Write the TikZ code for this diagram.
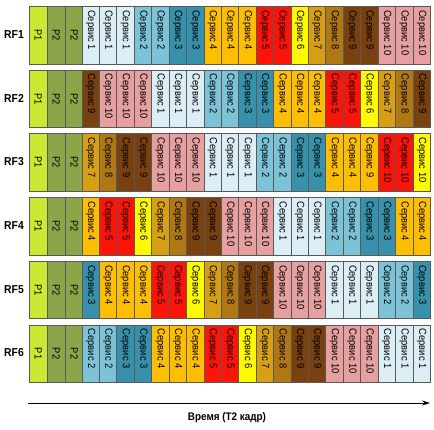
\documentclass[tikz,border=0pt]{standalone}
\usepackage{fontspec}
\setmainfont{Liberation Sans}[FakeStretch=0.9]
\usetikzlibrary{arrows.meta,positioning}
\definecolor{p1}{RGB}{205, 232, 50}
\definecolor{p2}{RGB}{140, 165, 75}
\definecolor{s1}{RGB}{220, 238, 245}
\definecolor{s2}{RGB}{125, 195, 215}
\definecolor{s3}{RGB}{55, 145, 170}
\definecolor{s4}{RGB}{255, 190, 0}
\definecolor{s5}{RGB}{255, 20, 10}
\definecolor{s6}{RGB}{255, 250, 0}
\definecolor{s7}{RGB}{215, 160, 20}
\definecolor{s8}{RGB}{175, 120, 20}
\definecolor{s9}{RGB}{120, 65, 15}
\definecolor{s10}{RGB}{230, 160, 160}

\tikzset{
  cell/.style={draw=black!65, line width=0.6pt, minimum width=17.42pt,
    minimum height=57.5pt, inner sep=0pt, anchor=north west},
  svclabel/.style={rotate=-90, anchor=west, inner sep=0pt,
    font=\fontsize{10.4}{10.4}\selectfont},
  plabel/.style={rotate=-90, inner sep=0pt, font=\fontsize{10.4}{10.4}\selectfont},
  rflabel/.style={font=\bfseries\fontsize{11.5}{12}\selectfont},
  axislabel/.style={font=\bfseries\fontsize{11}{11}\selectfont}
}

\begin{document}
\begin{tikzpicture}[x=1pt, y=-1pt]
\useasboundingbox (0,0) rectangle (434,429);

% RF1
\begin{scope}[shift={(0,6)}]
\node[rflabel] (rf1) at (14,28.5) {RF1};
\node[cell, fill=p1] (rf1p1) at (29.3,0) {};
\node[cell, fill=p2, right=0pt of rf1p1.north east, anchor=north west] (rf1p2) {};
\node[cell, fill=p2, right=0pt of rf1p2.north east, anchor=north west] (rf1p3) {};
\node[plabel] at (rf1p1.center) {P1};
\node[plabel] at (rf1p2.center) {P2};
\node[plabel] at (rf1p3.center) {P2};
\foreach \lbl/\clr [count=\i] in {1/s1,1/s1,1/s1,2/s2,2/s2,3/s3,3/s3,4/s4,4/s4,4/s4,
    5/s5,5/s5,6/s6,7/s7,8/s8,9/s9,9/s9,10/s10,10/s10,10/s10} {
    \node[cell, fill=\clr] (rf1c\i) at ({29.3+(\i+2)*17.42},0) {};
    \node[svclabel] at ([yshift=-4pt]rf1c\i.north) {Сервис \lbl};
}
\end{scope}

% RF2
\begin{scope}[shift={(0,69.7)}]
\node[rflabel] (rf2) at (14,28.5) {RF2};
\node[cell, fill=p1] (rf2p1) at (29.3,0) {};
\node[cell, fill=p2, right=0pt of rf2p1.north east, anchor=north west] (rf2p2) {};
\node[cell, fill=p2, right=0pt of rf2p2.north east, anchor=north west] (rf2p3) {};
\node[plabel] at (rf2p1.center) {P1};
\node[plabel] at (rf2p2.center) {P2};
\node[plabel] at (rf2p3.center) {P2};
\foreach \lbl/\clr [count=\i] in {9/s9,10/s10,10/s10,10/s10,1/s1,1/s1,1/s1,2/s2,2/s2,
    3/s3,3/s3,4/s4,4/s4,4/s4,5/s5,5/s5,6/s6,7/s7,8/s8,9/s9} {
    \node[cell, fill=\clr] (rf2c\i) at ({29.3+(\i+2)*17.42},0) {};
    \node[svclabel] at ([yshift=-4pt]rf2c\i.north) {Сервис \lbl};
}
\end{scope}

% RF3
\begin{scope}[shift={(0,133.4)}]
\node[rflabel] (rf3) at (14,28.5) {RF3};
\node[cell, fill=p1] (rf3p1) at (29.3,0) {};
\node[cell, fill=p2, right=0pt of rf3p1.north east, anchor=north west] (rf3p2) {};
\node[cell, fill=p2, right=0pt of rf3p2.north east, anchor=north west] (rf3p3) {};
\node[plabel] at (rf3p1.center) {P1};
\node[plabel] at (rf3p2.center) {P2};
\node[plabel] at (rf3p3.center) {P2};
\foreach \lbl/\clr [count=\i] in {7/s7,8/s8,9/s9,9/s9,10/s10,10/s10,10/s10,1/s1,1/s1,1/s1,
    2/s2,2/s2,3/s3,3/s3,4/s4,4/s4,9/s4,10/s5,10/s5,10/s6} {
    \node[cell, fill=\clr] (rf3c\i) at ({29.3+(\i+2)*17.42},0) {};
    \node[svclabel] at ([yshift=-4pt]rf3c\i.north) {Сервис \lbl};
}
\end{scope}

% RF4
\begin{scope}[shift={(0,197.1)}]
\node[rflabel] (rf4) at (14,28.5) {RF4};
\node[cell, fill=p1] (rf4p1) at (29.3,0) {};
\node[cell, fill=p2, right=0pt of rf4p1.north east, anchor=north west] (rf4p2) {};
\node[cell, fill=p2, right=0pt of rf4p2.north east, anchor=north west] (rf4p3) {};
\node[plabel] at (rf4p1.center) {P1};
\node[plabel] at (rf4p2.center) {P2};
\node[plabel] at (rf4p3.center) {P2};
\foreach \lbl/\clr [count=\i] in {4/s4,5/s5,5/s5,6/s6,7/s7,8/s8,9/s9,9/s9,10/s10,10/s10,
    10/s10,1/s1,1/s1,1/s1,2/s2,2/s2,3/s3,3/s3,4/s4,4/s4} {
    \node[cell, fill=\clr] (rf4c\i) at ({29.3+(\i+2)*17.42},0) {};
    \node[svclabel] at ([yshift=-4pt]rf4c\i.north) {Сервис \lbl};
}
\end{scope}

% RF5
\begin{scope}[shift={(0,260.8)}]
\node[rflabel] (rf5) at (14,28.5) {RF5};
\node[cell, fill=p1] (rf5p1) at (29.3,0) {};
\node[cell, fill=p2, right=0pt of rf5p1.north east, anchor=north west] (rf5p2) {};
\node[cell, fill=p2, right=0pt of rf5p2.north east, anchor=north west] (rf5p3) {};
\node[plabel] at (rf5p1.center) {P1};
\node[plabel] at (rf5p2.center) {P2};
\node[plabel] at (rf5p3.center) {P2};
\foreach \lbl/\clr [count=\i] in {3/s3,4/s4,4/s4,4/s4,5/s5,5/s5,6/s6,7/s7,8/s8,9/s9,9/s9,
    10/s10,10/s10,10/s10,1/s1,1/s1,1/s1,2/s2,2/s2,3/s3} {
    \node[cell, fill=\clr] (rf5c\i) at ({29.3+(\i+2)*17.42},0) {};
    \node[svclabel] at ([yshift=-4pt]rf5c\i.north) {Сервис \lbl};
}
\end{scope}

% RF6
\begin{scope}[shift={(0,324.5)}]
\node[rflabel] (rf6) at (14,28.5) {RF6};
\node[cell, fill=p1] (rf6p1) at (29.3,0) {};
\node[cell, fill=p2, right=0pt of rf6p1.north east, anchor=north west] (rf6p2) {};
\node[cell, fill=p2, right=0pt of rf6p2.north east, anchor=north west] (rf6p3) {};
\node[plabel] at (rf6p1.center) {P1};
\node[plabel] at (rf6p2.center) {P2};
\node[plabel] at (rf6p3.center) {P2};
\foreach \lbl/\clr [count=\i] in {2/s2,2/s2,3/s3,3/s3,4/s4,4/s4,4/s4,5/s5,5/s5,6/s6,7/s7,
    8/s8,9/s9,9/s9,10/s10,10/s10,10/s10,1/s1,1/s1,1/s1} {
    \node[cell, fill=\clr] (rf6c\i) at ({29.3+(\i+2)*17.42},0) {};
    \node[svclabel] at ([yshift=-4pt]rf6c\i.north) {Сервис \lbl};
}
\end{scope}

% time axis
\coordinate (tstart) at (28,403);
\coordinate (tend) at (430,403);
\draw[line width=0.8pt, -{Stealth[length=8pt,width=5pt]}] (tstart) -- (tend);
\node[axislabel] (tlabel) at (227,418) {Время (T2 кадр)};
\end{tikzpicture}
\end{document}
